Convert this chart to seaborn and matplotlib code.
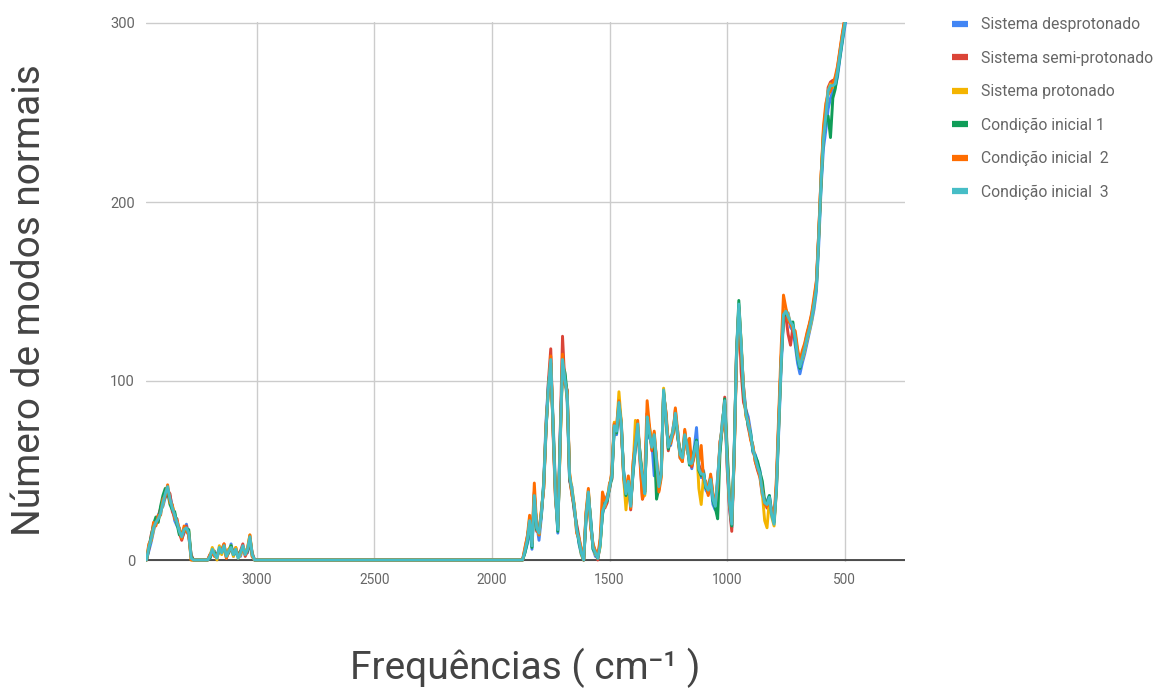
import numpy as np
import pandas as pd
import matplotlib
matplotlib.use("Agg")
import matplotlib.pyplot as plt
from matplotlib.lines import Line2D
import seaborn as sns

# Frequency grid (cm^-1): high-frequency block, then the fingerprint block.
freq_high = np.arange(3470, 3000, -10)   # 3470 ... 3010
freq_low = np.arange(1870, 460, -10)     # 1870 ... 470
frequencias = np.concatenate([freq_high, freq_low])

series_names = [
    "Sistema desprotonado",
    "Sistema semi-protonado",
    "Sistema protonado",
    "Condição inicial 1",
    "Condição inicial  2",
    "Condição inicial  3",
]
series_colors = ["#4285F4", "#DB4437", "#F4B400", "#0F9D58", "#FF6D00", "#46BDC6"]

# Number of normal modes per frequency bin
desprotonado = [
    0, 5, 10, 16, 22, 25, 28, 30, 35, 38, 36, 30, 22, 19, 18, 12, 15, 20, 13, 2,
    0, 0, 0, 0, 0, 0, 0, 1, 4, 5, 2, 5, 6, 7, 3, 4, 9, 2, 5, 3, 2, 7, 5, 4, 11, 2, 0,
    0, 4, 9, 18, 6, 33, 20, 11, 24, 44,
    78, 99, 108, 78, 40, 15, 70, 110, 104, 88,
    44, 41, 27, 19, 9, 3, 0, 22, 36, 23,
    6, 2, 2, 10, 25, 33, 36, 39, 49, 73,
    70, 86, 72, 50, 39, 42, 32, 48, 62, 74,
    58, 45, 39, 77, 68, 66, 47, 53, 43, 50,
    93, 78, 65, 64, 74, 79, 72, 57, 59, 68,
    66, 56, 51, 62, 74, 53, 46, 50, 39, 37,
    43, 31, 28, 47, 62, 78, 87, 58, 30, 18,
    60, 112, 141, 119, 97, 84, 80, 72, 60, 59,
    54, 50, 40, 30, 33, 36, 27, 22, 38, 72,
    107, 134, 137, 138, 130, 128, 120, 110, 104, 110,
    115, 121, 127, 133, 140, 150, 176, 208, 230, 240,
    252, 258, 262, 264, 270, 280, 289, 297, 305, 315,
    325,
]
semi_protonado = [
    0, 6, 14, 19, 20, 24, 29, 33, 35, 39, 37, 27, 24, 23, 15, 11, 16, 19, 14, 3,
    0, 0, 0, 0, 0, 0, 0, 3, 5, 2, 2, 6, 5, 9, 1, 6, 6, 4, 7, 2, 5, 9, 2, 5, 12, 4, 0,
    0, 6, 13, 20, 9, 38, 16, 17, 27, 40,
    72, 100, 118, 70, 34, 19, 70, 125, 98, 95,
    45, 37, 28, 20, 13, 5, 0, 26, 36, 19,
    8, 5, 0, 9, 29, 29, 32, 43, 45, 76,
    74, 85, 78, 46, 35, 46, 28, 52, 66, 73,
    54, 34, 38, 82, 73, 61, 68, 57, 39, 50,
    93, 82, 61, 69, 70, 84, 68, 61, 55, 72,
    62, 56, 52, 58, 64, 53, 50, 46, 43, 37,
    47, 36, 32, 43, 66, 74, 91, 52, 30, 16,
    56, 116, 140, 105, 88, 84, 74, 68, 64, 55,
    50, 46, 36, 34, 29, 33, 27, 22, 42, 78,
    112, 135, 136, 126, 120, 130, 126, 116, 110, 115,
    120, 126, 131, 137, 145, 155, 183, 215, 237, 250,
    264, 267, 268, 268, 275, 284, 293, 301, 310, 320,
    330,
]
protonado = [
    0, 8, 11, 17, 23, 22, 27, 31, 38, 40, 33, 30, 26, 20, 17, 14, 18, 17, 16, 0,
    0, 0, 0, 0, 0, 0, 0, 2, 7, 4, 0, 8, 3, 7, 3, 6, 8, 2, 7, 1, 3, 7, 4, 7, 14, 2, 0,
    0, 5, 12, 21, 9, 35, 19, 14, 28, 41,
    75, 95, 110, 76, 38, 18, 65, 110, 103, 90,
    48, 40, 31, 16, 12, 3, 0, 25, 39, 20,
    7, 3, 2, 7, 28, 30, 35, 42, 48, 77,
    73, 94, 77, 46, 28, 45, 31, 51, 78, 75,
    57, 48, 36, 79, 74, 65, 71, 54, 42, 47,
    96, 79, 64, 66, 73, 81, 71, 58, 56, 71,
    63, 55, 56, 59, 65, 40, 31, 47, 42, 38,
    44, 35, 31, 44, 63, 77, 88, 60, 34, 21,
    57, 113, 142, 122, 96, 80, 77, 69, 63, 56,
    53, 47, 37, 22, 18, 34, 24, 19, 39, 76,
    112, 138, 140, 137, 132, 130, 125, 113, 109, 112,
    117, 123, 128, 134, 143, 153, 181, 214, 240, 252,
    262, 266, 264, 266, 274, 283, 292, 300, 309, 319,
    329,
]
inicial_1 = [
    0, 7, 13, 20, 24, 21, 30, 36, 40, 38, 31, 28, 27, 20, 14, 15, 16, 17, 17, 2,
    0, 0, 0, 0, 0, 0, 0, 1, 5, 4, 2, 6, 5, 7, 2, 4, 8, 3, 5, 2, 5, 6, 4, 5, 12, 3, 0,
    0, 4, 10, 23, 7, 37, 17, 16, 25, 43,
    73, 97, 110, 73, 37, 16, 67, 108, 105, 93,
    46, 38, 29, 18, 10, 4, 0, 23, 37, 22,
    6, 4, 1, 9, 26, 32, 33, 40, 46, 74,
    71, 87, 75, 49, 36, 43, 31, 49, 63, 72,
    60, 46, 38, 79, 70, 64, 66, 34, 40, 49,
    94, 81, 62, 68, 71, 80, 69, 60, 58, 69,
    65, 53, 55, 61, 67, 50, 47, 49, 40, 40,
    46, 33, 29, 23, 60, 75, 90, 63, 36, 19,
    59, 115, 145, 120, 93, 83, 75, 71, 61, 58,
    55, 49, 44, 33, 32, 36, 26, 21, 41, 77,
    111, 136, 138, 135, 132, 133, 123, 113, 107, 114,
    119, 125, 131, 136, 144, 153, 181, 210, 238, 245,
    248, 236, 258, 263, 272, 281, 290, 300, 309, 319,
    328,
]
inicial_2 = [
    0, 9, 11, 21, 19, 25, 25, 34, 36, 42, 32, 31, 23, 22, 17, 12, 19, 16, 14, 0,
    0, 0, 0, 0, 0, 0, 0, 3, 4, 2, 3, 5, 6, 9, 1, 5, 6, 4, 6, 2, 4, 7, 3, 6, 14, 2, 0,
    0, 7, 13, 25, 10, 43, 19, 14, 27, 40,
    76, 94, 114, 72, 35, 20, 63, 115, 99, 94,
    49, 36, 31, 15, 12, 6, 0, 27, 40, 18,
    9, 5, 2, 12, 38, 33, 35, 40, 50, 76,
    75, 89, 74, 47, 38, 47, 29, 55, 65, 78,
    57, 34, 48, 89, 75, 62, 72, 56, 38, 46,
    92, 83, 66, 65, 70, 85, 72, 57, 55, 73,
    61, 68, 53, 58, 63, 55, 64, 45, 44, 36,
    48, 37, 31, 42, 66, 73, 87, 57, 32, 22,
    55, 111, 140, 118, 97, 81, 78, 67, 63, 55,
    51, 47, 39, 31, 30, 32, 28, 23, 46, 82,
    118, 148, 141, 134, 132, 129, 128, 118, 111, 117,
    121, 127, 132, 138, 147, 156, 183, 214, 242, 255,
    260, 262, 266, 270, 276, 285, 294, 302, 311, 321,
    331,
]
inicial_3 = [
    0, 7, 12, 18, 21, 23, 26, 32, 37, 41, 34, 29, 25, 21, 16, 13, 17, 18, 15, 1,
    0, 0, 0, 0, 0, 0, 0, 2, 6, 3, 1, 7, 4, 8, 2, 5, 7, 3, 6, 1, 4, 8, 3, 6, 13, 3, 0,
    0, 5, 11, 22, 8, 36, 18, 15, 26, 42,
    74, 96, 112, 74, 36, 17, 66, 112, 101, 92,
    47, 39, 30, 17, 11, 4, 0, 24, 38, 21,
    7, 4, 1, 8, 27, 31, 34, 41, 47, 75,
    72, 88, 76, 48, 37, 44, 30, 50, 64, 76,
    56, 47, 37, 80, 71, 63, 70, 55, 41, 48,
    95, 80, 63, 67, 72, 82, 70, 59, 57, 70,
    64, 54, 54, 60, 66, 51, 48, 48, 41, 39,
    45, 34, 30, 45, 64, 76, 89, 55, 33, 20,
    58, 114, 143, 121, 95, 82, 76, 70, 62, 57,
    52, 48, 38, 32, 31, 35, 25, 20, 40, 75,
    110, 137, 139, 136, 133, 131, 124, 114, 108, 113,
    118, 124, 129, 135, 143, 152, 180, 212, 235, 248,
    262, 265, 265, 266, 273, 282, 291, 299, 308, 318,
    328,
]

all_values = [desprotonado, semi_protonado, protonado, inicial_1, inicial_2, inicial_3]
for vals in all_values:
    assert len(vals) == len(frequencias), len(vals)

df = pd.concat(
    [pd.DataFrame({"freq": frequencias, "modos": vals, "serie": name})
     for name, vals in zip(series_names, all_values)],
    ignore_index=True,
)

sns.set_theme(style="white")
plt.rcParams["font.family"] = ["Roboto", "DejaVu Sans"]

W, H = 1154, 690
fig = plt.figure(figsize=(W / 100, H / 100), dpi=100)

y_lo, y_hi = -1.0, 300.6
px_per_unit = 1.79
ax_left, ax_right = 146, 905
ax_bottom_px = 560 - y_lo * px_per_unit
ax_top_px = 23 - (y_hi - 300) * px_per_unit
ax = fig.add_axes([ax_left / W, 1 - ax_bottom_px / H,
                   (ax_right - ax_left) / W, (ax_bottom_px - ax_top_px) / H])

sns.lineplot(
    data=df, x="freq", y="modos", hue="serie", hue_order=series_names,
    palette=series_colors, linewidth=2.1, estimator=None, sort=False,
    legend=False, ax=ax, zorder=3,
)

ax.set_xlim(3472, 243)
ax.set_ylim(y_lo, y_hi)
ax.set_xticks([3000, 2500, 2000, 1500, 1000, 500])
ax.set_yticks([0, 100, 200, 300])
ax.grid(True, color="#cccccc", linewidth=1.0, zorder=0)
ax.set_axisbelow(True)
ax.axhline(0, color="#333333", linewidth=1.2, zorder=2)
for s in ax.spines.values():
    s.set_visible(False)
ax.tick_params(axis="both", length=0, labelcolor="#666666")
ax.tick_params(axis="y", pad=8, labelsize=10.5)
ax.tick_params(axis="x", pad=8, labelsize=9.8)
ax.set_xlabel("")
ax.set_ylabel("")

fig.text(30 / W, 1 - 300 / H, "Número de modos normais", rotation=90,
         ha="center", va="center", fontsize=28, color="#444444")
fig.text(525.5 / W, 1 - 668 / H, "Frequências ( cm⁻¹ )",
         ha="center", va="center", fontsize=28, color="#444444")

handles = [Line2D([0], [0], color=c, linewidth=4.5, solid_capstyle="butt")
           for c in series_colors]
fig.legend(
    handles, series_names, loc="upper left",
    bbox_to_anchor=(952 / W, 1 - 17 / H), bbox_transform=fig.transFigure,
    frameon=False, fontsize=11.3, labelcolor="#666666",
    handlelength=1.0, handletextpad=0.85, labelspacing=1.18,
    borderpad=0, borderaxespad=0,
)

fig.savefig("out.png", dpi=100, facecolor="white")
